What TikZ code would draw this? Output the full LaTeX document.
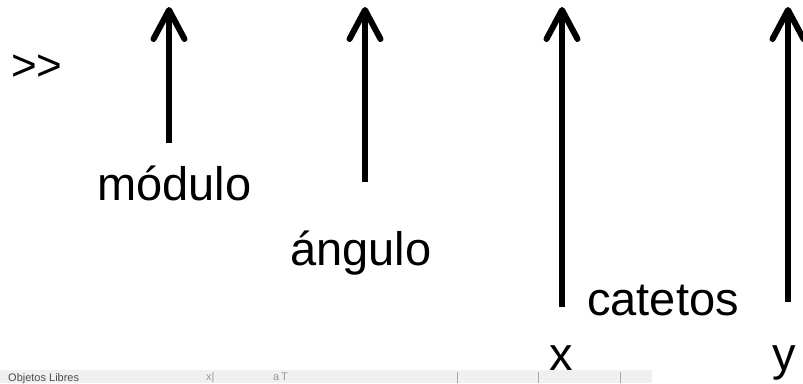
\documentclass[tikz,border=0pt]{standalone}
\usepackage{fontspec}
\setmainfont{Liberation Sans}
\begin{document}
\begin{tikzpicture}[x=1pt,y=-1pt,
  lbl/.style={anchor=base west,inner sep=0pt,font=\fontsize{47}{51}\selectfont},
  shaft/.style={line width=6pt,black},
  headln/.style={line width=6pt,black,line cap=round,line join=round},
  band/.style={fill=black!6,draw=none},
  tick/.style={draw=black!35,line width=0.8pt},
  small/.style={anchor=base west,inner sep=0pt,font=\fontsize{11}{13}\selectfont}]
\useasboundingbox (0,0) rectangle (803,383);
\fill[white] (0,0) rectangle (803,383);
% bottom screenshot strip
\fill[band] (0,370) rectangle (652,383);
\node[small,text=black!70] (ol) at (8,381.5) {Objetos Libres};
\node[small,text=black!40] (ic1) at (206,380) {x|};
\node[small,text=black!40] (ic2) at (273,380) {a\,T};
\coordinate (t1a) at (457,372); \coordinate (t1b) at (457,383);
\coordinate (t2a) at (538,372); \coordinate (t2b) at (538,383);
\coordinate (t3a) at (620,372); \coordinate (t3b) at (620,383);
\draw[tick] (t1a) -- (t1b);
\draw[tick] (t2a) -- (t2b);
\draw[tick] (t3a) -- (t3b);
% arrows
\foreach \n/\x/\yb in {a/169/143, b/365/182, c/562/307, d/788/302}{
  \coordinate (top\n) at (\x,10);
  \coordinate (bot\n) at (\x,\yb);
  \coordinate (bl\n) at (\x-15.5,39);
  \coordinate (br\n) at (\x+15.5,39);
  \draw[shaft] (bot\n) -- (top\n);
  \draw[headln] (bl\n) -- (top\n) -- (br\n);
}
% labels
\node[lbl,font=\fontsize{44}{48}\selectfont] (gg) at (11,80) {>{}>};
\node[lbl] (mod) at (97,200) {módulo};
\node[lbl] (ang) at (290,265) {ángulo};
\node[lbl] (cat) at (587,315) {catetos};
\node[lbl] (xx) at (549,370) {x};
\node[lbl] (yy) at (772,370) {y};
\end{tikzpicture}
\end{document}
